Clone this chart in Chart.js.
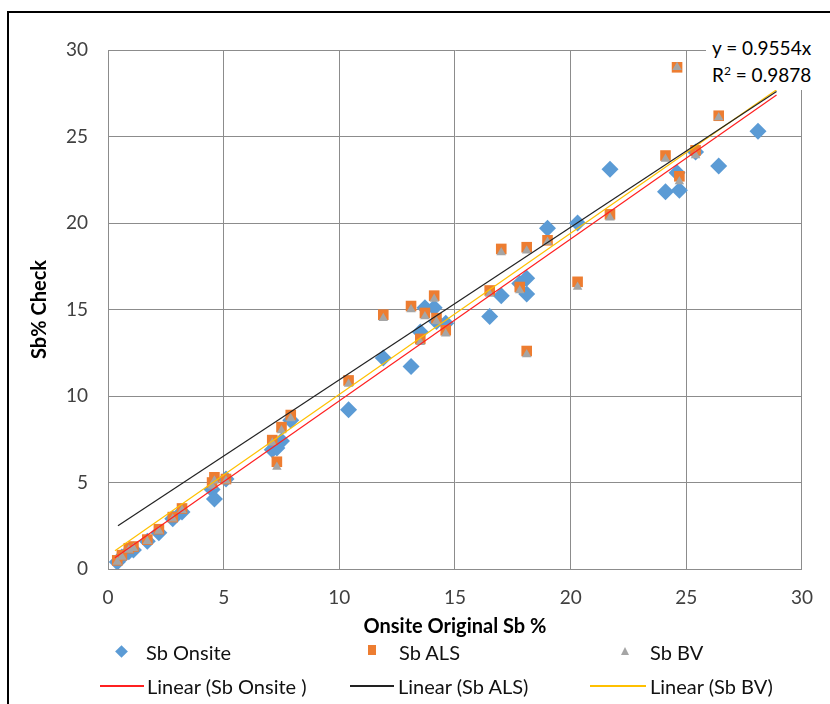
<!DOCTYPE html>
<html>
<head>
<meta charset="utf-8">
<script src="https://cdn.jsdelivr.net/npm/chart.js@4.4.1/dist/chart.umd.min.js"></script>
<style>
  body { margin:0; width:830px; height:704px; overflow:hidden; position:relative; background:#fff;
         font-family:Lato,"Open Sans",sans-serif; }
  #frame { position:absolute; left:7px; top:11px; width:840px; height:720px; border:2px solid #000; }
  #wrap { position:absolute; left:0; top:0; width:830px; height:704px; }
  #eq { position:absolute; left:706px; top:34px; width:118px; height:56px; background:#fff;
        font-size:19px; line-height:27px; color:#000; padding-left:6px; box-sizing:border-box; }
  .lg { position:absolute; font-size:20px; color:#111; line-height:22px; white-space:nowrap; }
  .mk { position:absolute; }
</style>
</head>
<body>
<div id="frame"></div>
<div id="wrap"><canvas id="chart" width="830" height="704"></canvas></div>
<div id="eq">y = 0.9554x<br>R<sup style="font-size:12px;line-height:0">2</sup> = 0.9878</div>

<div class="mk" style="left:117px;top:647px;width:9px;height:9px;background:#5b9bd5;transform:rotate(45deg)"></div>
<div class="lg" style="left:146px;top:641px">Sb Onsite</div>
<div class="mk" style="left:368px;top:645px;width:8px;height:10px;background:#ed7d31"></div>
<div class="lg" style="left:399px;top:641px">Sb ALS</div>
<div class="mk" style="left:621px;top:647px;width:0;height:0;border-left:4px solid transparent;border-right:4px solid transparent;border-bottom:8px solid #a5a5a5"></div>
<div class="lg" style="left:650px;top:641px">Sb BV</div>

<div class="mk" style="left:100px;top:685px;width:44px;height:2px;background:#ff2020"></div>
<div class="lg" style="left:147px;top:675px">Linear (Sb Onsite )</div>
<div class="mk" style="left:350px;top:685px;width:44px;height:2px;background:#222"></div>
<div class="lg" style="left:398px;top:675px">Linear (Sb ALS)</div>
<div class="mk" style="left:590px;top:685px;width:56px;height:2px;background:#ffc000"></div>
<div class="lg" style="left:650px;top:675px">Linear (Sb BV)</div>

<script>
// axis ticks
const axisMin = 0;
const axisMax = 30;
const axisStep = 5;

// samples: x = original onsite value, y = three check methods
const sampleX = [0.4, 0.6, 0.9, 1.1, 1.7, 2.2, 2.8, 3.2, 4.5, 4.6, 5.1, 7.1, 7.3, 7.5, 7.9, 10.4,
  11.9, 13.1, 13.5, 13.7, 14.1, 14.2, 14.6, 16.5, 17.0, 17.8, 18.1, 18.1, 19.0, 20.3, 21.7,
  24.1, 24.6, 24.7, 25.4, 26.4, 28.1];
const sbOnsite = [0.4, 0.7, 1.0, 1.1, 1.6, 2.1, 2.9, 3.3, 4.6, 4.05, 5.2, 6.9, 7.0, 7.4, 8.6, 9.2,
  12.2, 11.7, 13.7, 15.1, 15.1, 14.3, 14.2, 14.6, 15.8, 16.5, 16.8, 15.9, 19.7, 20.0, 23.1,
  21.8, 22.9, 21.9, 24.1, 23.3, 25.3];
const sbALS = [0.5, 0.8, 1.2, 1.3, 1.7, 2.3, 3.0, 3.5, 5.0, 5.3, 5.2, 7.45, 6.2, 8.2, 8.9, 10.9,
  14.7, 15.2, 13.3, 14.8, 15.8, 14.5, 13.8, 16.1, 18.5, 16.3, 18.6, 12.6, 19.0, 16.6, 20.5,
  23.9, 29.0, 22.7, 24.2, 26.2, null];
const sbBV = [0.4, 0.7, 1.1, 1.2, 1.6, 2.2, 2.9, 3.4, 4.8, 5.1, 5.1, 7.3, 5.9, 8.0, 8.7, 10.7,
  14.5, 15.0, 13.1, 14.6, 15.6, 14.3, 13.6, 15.9, 18.3, 16.1, 18.4, 12.4, 18.9, 16.3, 20.3,
  23.7, 29.0, 22.4, 23.9, 26.1, null];

// trend line end points
const trendOnsiteX = [0.3, 28.9];
const trendOnsiteY = [0.65, 27.4];
const trendALSX = [0.43, 28.9];
const trendALSY = [2.5, 27.6];
const trendBVX = [0.3, 28.9];
const trendBVY = [1.05, 27.7];

function pts(xs, ys) {
  const out = [];
  xs.forEach((x, i) => { if (ys[i] !== null) out.push({x: x, y: ys[i]}); });
  return out;
}

const tickFont = {family: 'Lato, "Open Sans", sans-serif', size: 19};
const titleFont = {family: 'Lato, "Open Sans", sans-serif', size: 20, weight: 'bold'};
const gridColor = '#8c8c8c';

new Chart(document.getElementById('chart'), {
  type: 'scatter',
  data: {
    datasets: [
      {label: 'Sb Onsite', data: pts(sampleX, sbOnsite), pointStyle: 'rectRot', pointRadius: 8.5,
       backgroundColor: '#5b9bd5', borderColor: '#5b9bd5', borderWidth: 0, order: 3},
      {label: 'Sb ALS', data: pts(sampleX, sbALS), pointStyle: 'rect', pointRadius: 7.5,
       backgroundColor: '#ed7d31', borderColor: '#ed7d31', borderWidth: 0, order: 2},
      {label: 'Sb BV', data: pts(sampleX, sbBV), pointStyle: 'triangle', pointRadius: 5.5,
       backgroundColor: '#a5a5a5', borderColor: '#a5a5a5', borderWidth: 0, order: 1},
      {label: 'Linear (Sb Onsite )', data: pts(trendOnsiteX, trendOnsiteY), showLine: true,
       pointRadius: 0, borderColor: '#ff2020', borderWidth: 1.2, order: 0},
      {label: 'Linear (Sb ALS)', data: pts(trendALSX, trendALSY), showLine: true,
       pointRadius: 0, borderColor: '#222222', borderWidth: 1.2, order: 0},
      {label: 'Linear (Sb BV)', data: pts(trendBVX, trendBVY), showLine: true,
       pointRadius: 0, borderColor: '#ffc000', borderWidth: 1.2, order: 0}
    ]
  },
  options: {
    responsive: false,
    animation: false,
    events: [],
    layout: {padding: {left: 0, top: 50, right: 27, bottom: 65}},
    plugins: {legend: {display: false}, tooltip: {enabled: false}},
    scales: {
      x: {
        type: 'linear', min: axisMin, max: axisMax,
        ticks: {stepSize: axisStep, font: tickFont, color: '#404040', padding: 17},
        grid: {color: gridColor, drawTicks: false},
        border: {color: gridColor},
        title: {display: true, text: 'Onsite Original Sb %', font: titleFont, color: '#000', padding: 0},
        afterFit: s => { s.height = 70; }
      },
      y: {
        type: 'linear', min: axisMin, max: axisMax,
        ticks: {stepSize: axisStep, font: tickFont, color: '#404040', padding: 20},
        grid: {color: gridColor, drawTicks: false},
        border: {color: gridColor},
        title: {display: true, text: 'Sb% Check', font: titleFont, color: '#000', padding: {top: 28, bottom: 0}},
        afterFit: s => { s.width = 108; }
      }
    }
  }
});
</script>
</body>
</html>
